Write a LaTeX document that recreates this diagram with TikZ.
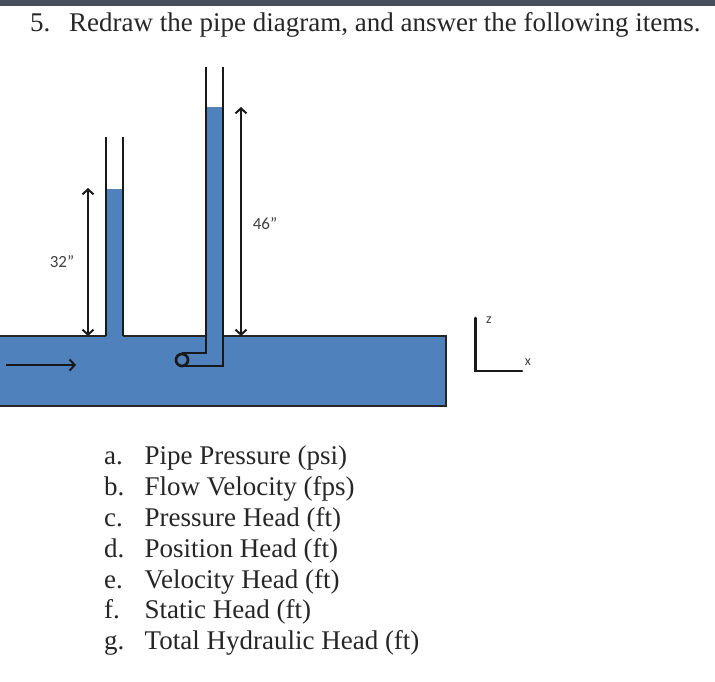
\documentclass[tikz,border=0pt]{standalone}
\usepackage{fontspec}
\usepackage{xcolor}
\setmainfont{Liberation Serif}
\newfontfamily\labelfont{Carlito}
\usetikzlibrary{calc,arrows.meta}
\definecolor{pipe_fill}{HTML}{4F81BD}
\definecolor{top_bar}{HTML}{474E5C}
\colorlet{label_text}{black!75}
\tikzset{
    wall/.style={line width=2.7pt,black!90},
    dim_arrow/.style={{Straight Barb[length=5pt,width=11pt,line width=2pt]}-{Straight Barb[length=5pt,width=11pt,line width=2pt]},line width=2.2pt,black!90},
    flow_arrow/.style={-{Straight Barb[length=5pt,width=11pt,line width=2pt]},line width=2.2pt,black!90},
    item_text/.style={anchor=base west,font=\fontsize{27}{27}\selectfont,inner sep=0pt,black!85},
    dim_text/.style={font=\labelfont\fontsize{17}{17}\selectfont,inner sep=0pt,label_text},
    axis_text/.style={font=\labelfont\fontsize{14}{14}\selectfont,inner sep=0pt,label_text},
}
\begin{document}
\begin{tikzpicture}[x=1pt,y=-1pt]
  \useasboundingbox (0,0) rectangle (715,681);
  \fill[top_bar] (0,0) rectangle (715,6);
  \coordinate (T1) at (88,188);
  \coordinate (B1) at (88,336);
  \coordinate (T2) at (241,107);
  \coordinate (B2) at (241,336);
  \coordinate (F1) at (6,365);
  \coordinate (F2) at (76,365);
  \coordinate (O) at (475.5,371);
  \coordinate (Z) at (475.5,318);
  \coordinate (X) at (522,371);
  % Pipe and liquid
  \fill[pipe_fill] (106,189) rectangle (123,337);
  \fill[pipe_fill] (206,107) rectangle (223,337);
  \draw[pipe_fill!70!gray,thin] (106,189) -- (123,189);
  \draw[pipe_fill!70!gray,thin] (206,107) -- (223,107);
  \fill[pipe_fill] (-2,336) rectangle (446,406);
  \draw[line width=2pt,black!85] (-2,336) -- (106,336);
  \draw[line width=2pt,black!85] (123,336) -- (206,336);
  \draw[line width=2pt,black!85] (223,336) -- (446,336) -- (446,406) -- (-2,406);
  % Tube walls
  \draw[wall] (106,137) -- (106,336);
  \draw[wall] (123,137) -- (123,336);
  \draw[wall] (206,67) -- (206,353) -- (182,353);
  \draw[wall] (223,67) -- (223,366) -- (182,366);
  \draw[wall,fill=pipe_fill] (182,360) circle (6);
  % Dimension and flow arrows
  \draw[dim_arrow] (T1) -- (B1);
  \draw[dim_arrow] (T2) -- (B2);
  \draw[flow_arrow] (F1) -- (F2);
  \draw[wall,line cap=round] (Z) -- (O) -- (X);
  \node[dim_text] (dim_a) at (62,262) {32”};
  \node[dim_text] (dim_b) at (265,224) {46”};
  \node[axis_text] (lab_z) at (489,320) {z};
  \node[axis_text] (lab_x) at (528,362) {x};
  % Question text
  \node[item_text] (title_n) at (30,31) {5.};
  \node[item_text] (title) at (69,31) {Redraw the pipe diagram, and answer the following items.};
  \node[item_text] (a_n) at (104,464.5) {a.};
  \node[item_text] (a) at (144.5,464.5) {Pipe Pressure (psi)};
  \node[item_text] (b_n) at (104,495.5) {b.};
  \node[item_text] (b) at (144.5,495.5) {Flow Velocity (fps)};
  \node[item_text] (c_n) at (104,526.5) {c.};
  \node[item_text] (c) at (144.5,526.5) {Pressure Head (ft)};
  \node[item_text] (d_n) at (104,557.5) {d.};
  \node[item_text] (d) at (144.5,557.5) {Position Head (ft)};
  \node[item_text] (e_n) at (104,588.5) {e.};
  \node[item_text] (e) at (144.5,588.5) {Velocity Head (ft)};
  \node[item_text] (f_n) at (104,618.5) {f.};
  \node[item_text] (f) at (144.5,618.5) {Static Head (ft)};
  \node[item_text] (g_n) at (104,649.5) {g.};
  \node[item_text] (g) at (144.5,649.5) {Total Hydraulic Head (ft)};
\end{tikzpicture}
\end{document}
